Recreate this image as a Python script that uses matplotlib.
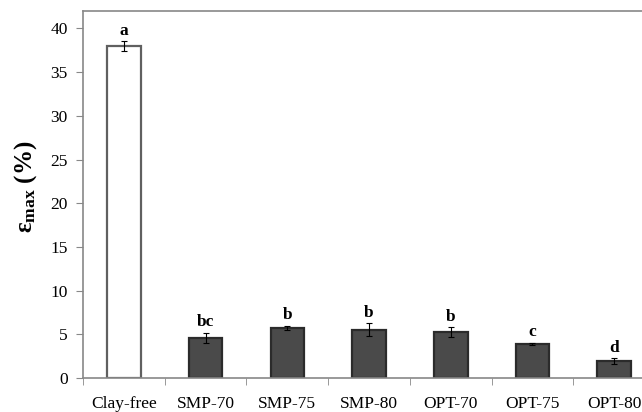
import numpy as np
import matplotlib
matplotlib.use('Agg')
import matplotlib.pyplot as plt

#--------Data--------#
samples = ['Clay-free', 'SMP-70', 'SMP-75', 'SMP-80', 'OPT-70', 'OPT-75', 'OPT-80']
eps_max = [38.0, 4.6, 5.75, 5.5, 5.25, 3.9, 1.95]
eps_err = [0.55, 0.6, 0.25, 0.75, 0.55, 0.15, 0.3]
letters = ['a', 'bc', 'b', 'b', 'b', 'c', 'd']
#--------------------#

plt.rcParams['font.family'] = ['Liberation Serif', 'DejaVu Serif']
plt.rcParams['mathtext.fontset'] = 'custom'
plt.rcParams['mathtext.rm'] = 'Liberation Serif:bold'
plt.rcParams['mathtext.it'] = 'Liberation Serif:bold'
plt.rcParams['mathtext.bf'] = 'Liberation Serif:bold'

fig = plt.figure(figsize=(6.42, 4.12), dpi=100)
ax = fig.add_axes([83 / 642, 34 / 412, 1 - 83 / 642, 367 / 412])

x = np.arange(len(samples))
faces = ['white'] + ['#4a4a4a'] * (len(samples) - 1)
edges = ['#606060'] + ['#2b2b2b'] * (len(samples) - 1)
ax.bar(x, eps_max, width=0.41, color=faces, edgecolor=edges, linewidth=1.6, zorder=2)
ax.errorbar(x, eps_max, yerr=eps_err, fmt='none', ecolor='black',
            elinewidth=0.8, capsize=2.5, capthick=0.8, zorder=3)

for xi, v, e, lab in zip(x, eps_max, eps_err, letters):
    ax.text(xi, v + e + 0.3, lab, ha='center', va='bottom', fontsize=12.5, fontweight='bold')

ax.set_xlim(-0.5, 6.34)
ax.set_ylim(0, 42)
ax.set_yticks(np.arange(0, 41, 5))
ax.set_xticks(x)
ax.set_xticklabels(samples, fontsize=12.5)
ax.set_xticks(np.arange(-0.5, 6.5, 1), minor=True)
ax.tick_params(axis='x', which='major', length=0, pad=13)
ax.tick_params(axis='x', which='minor', length=5, direction='out', color='#888888')
ax.tick_params(axis='y', labelsize=12.5, length=5, direction='out', color='#888888', pad=6)

for s in ['left', 'bottom', 'top']:
    ax.spines[s].set_color('#888888')
    ax.spines[s].set_linewidth(1.2)
ax.spines['right'].set_visible(False)

ax.set_ylabel(r'$\mathrm{ε}_{\mathrm{max}}$ (%)', fontsize=18, fontweight='bold')
ax.yaxis.set_label_coords(-0.078, 0.52)

plt.savefig('out.png', dpi=100)
